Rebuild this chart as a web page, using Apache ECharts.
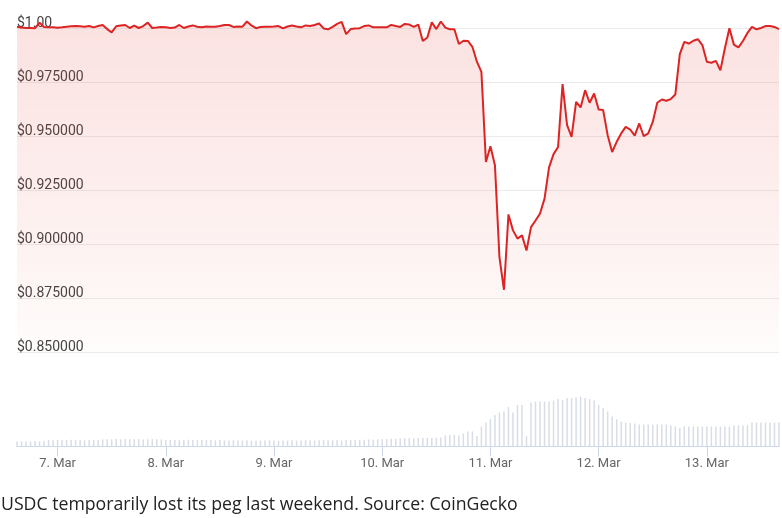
<!DOCTYPE html>
<html>
<head>
<meta charset="utf-8">
<script src="https://cdn.jsdelivr.net/npm/echarts@6/dist/echarts.min.js"></script>
<style>
html,body{margin:0;padding:0;background:#fff;}
#chart{width:782px;height:518px;}
</style>
</head>
<body>
<div id="chart"></div>
<script>
// ---- data ----
const caption = 'USDC temporarily lost its peg last weekend. Source: CoinGecko';
const dayLabels = ['6. Mar','7. Mar','8. Mar','9. Mar','10. Mar','11. Mar','12. Mar','13. Mar'];
const firstHour = 15;   // data starts 6 Mar 15:00
const lastHour = 16;    // data ends 13 Mar 16:00
const yTicks = [0.85, 0.875, 0.9, 0.925, 0.95, 0.975, 1.0];

const price = [
 1.0006,1.0002,1.0000,1.0000,0.9999,1.0025,1.0005,1.0003,1.0003,1.0001,
 1.0003,1.0006,1.0008,1.0009,1.0008,1.0006,1.0009,1.0003,1.0009,1.0014,
 0.9995,0.9980,1.0008,1.0012,1.0014,1.0000,1.0011,1.0000,1.0009,1.0025,
 1.0000,1.0002,1.0005,1.0003,1.0000,1.0002,1.0014,1.0000,1.0007,1.0012,
 1.0006,1.0003,1.0007,1.0006,1.0006,1.0009,1.0014,1.0014,1.0005,1.0007,
 1.0006,1.0030,1.0012,0.9999,1.0005,1.0006,1.0006,1.0007,1.0009,0.9998,
 1.0007,1.0012,1.0007,1.0003,1.0012,1.0009,1.0014,1.0021,0.9998,0.9994,
 1.0005,1.0019,1.0028,0.9972,0.9995,0.9998,0.9999,1.0009,1.0012,1.0003,
 1.0003,1.0003,1.0003,1.0014,1.0009,1.0005,1.0019,1.0016,1.0005,1.0016,
 0.9940,0.9956,1.0026,0.9995,1.0030,1.0002,0.9994,0.9994,0.9926,0.9941,
 0.9940,0.9913,0.9844,0.9797,0.9380,0.9453,0.9365,0.8939,0.8788,0.9137,
 0.9063,0.9025,0.9040,0.8970,0.9078,0.9109,0.9141,0.9210,0.9355,0.9416,
 0.9449,0.9740,0.9550,0.9496,0.9658,0.9632,0.9712,0.9654,0.9697,0.9623,
 0.9620,0.9504,0.9426,0.9473,0.9512,0.9542,0.9530,0.9502,0.9558,0.9499,
 0.9512,0.9565,0.9654,0.9669,0.9663,0.9671,0.9692,0.9879,0.9936,0.9928,
 0.9941,0.9948,0.9921,0.9844,0.9839,0.9848,0.9804,0.9906,0.9999,0.9923,
 0.9910,0.9940,0.9977,1.0005,0.9994,1.0000,1.0009,1.0009,1.0005,0.9995
];

// trading volume (USD bn)
const volume = [
 2.5,2.6,2.5,2.5,2.7,2.6,2.8,
 3.2,3.1,3.3,3.2,3.2,3.4,3.2,3.3,3.1,3.2,3.4,3.3,3.5,3.6,
 3.6,3.7,3.6,3.8,3.7,3.6,3.7,3.5,3.6,3.7,3.6,3.5,
 3.3,3.4,3.3,3.2,3.3,3.4,3.3,3.2,3.3,3.3,3.2,3.1,3.2,3.1,3.0,3.1,
 3.0,3.0,3.1,3.0,2.9,3.0,3.0,3.1,3.0,2.9,3.0,3.0,
 3.1,3.0,3.1,3.2,3.1,3.0,3.1,3.2,3.1,3.1,3.2,3.1,3.2,3.3,3.2,
 3.4,3.4,3.5,3.4,3.6,
 3.8,3.7,3.9,3.8,
 4.0,4.1,4.2,4.1,4.3,4.2,4.4,4.2,4.3,4.5,
 5.6,5.8,5.9,5.5,
 6.5,7.5,7.6,5.3,10,12,13.7,15.8,17,17.5,19.7,17,20.8,20.8,5.3,22,22.5,22.5,22.5,22.5,
 23,23.7,23.3,24.2,24.2,24.5,25,24.2,23.7,23,20.8,19.2,17.5,15,13.7,12.5,12,11.7,11.5,
 11,11,11,11,11,11,11,10.5,10,9.2,
 10,10,10,10,10,10,10,10,10,10,10,
 10.5,10.5,10.5,10.8,
 12,12,12,12,12,12,12
];

// hourly categories
const categories = [];
dayLabels.forEach((d, di) => {
  const h0 = di === 0 ? firstHour : 0;
  const h1 = di === dayLabels.length - 1 ? lastHour : 23;
  for (let h = h0; h <= h1; h++) {
    categories.push(d + ' ' + String(h).padStart(2, '0') + ':00');
  }
});

const isMidnight = (idx, val) => /00:00$/.test(val);

const chart = echarts.init(document.getElementById('chart'));
chart.setOption({
  animation: false,
  title: {
    text: caption,
    left: 1, top: 496, padding: 0,
    textStyle: {fontFamily: '"Open Sans", sans-serif', fontSize: 17.7, fontWeight: 'normal', color: '#222'}
  },
  grid: [
    {left: 17, right: 3, top: 28, bottom: 166},
    {left: 17, right: 3, top: 346.5, bottom: 71.5}
  ],
  xAxis: [
    {type: 'category', gridIndex: 0, data: categories, boundaryGap: false, show: false},
    {type: 'category', gridIndex: 1, data: categories, boundaryGap: false,
     axisLine: {lineStyle: {color: '#ccd6eb', width: 1}},
     axisTick: {interval: isMidnight, length: 10, lineStyle: {color: '#ccd6eb'}},
     axisLabel: {interval: isMidnight, margin: 11,
       formatter: v => v.split(' ').slice(0, 2).join(' '),
       color: '#666', fontSize: 13, fontFamily: 'Roboto, sans-serif'},
     splitLine: {show: false}}
  ],
  yAxis: [
    {type: 'value', gridIndex: 0, min: yTicks[0], max: yTicks[yTicks.length - 1], interval: 0.025,
     axisLine: {show: false}, axisTick: {show: false},
     splitLine: {lineStyle: {color: '#ebebeb', width: 1}},
     axisLabel: {inside: true, margin: 0, verticalAlign: 'bottom', lineHeight: 10,
       color: '#444', fontSize: 14, fontFamily: 'Roboto, sans-serif',
       formatter: v => Math.abs(v - 1) < 1e-9 ? '$1.00' : '$' + v.toFixed(6)}},
    {type: 'value', gridIndex: 1, min: 0, max: 50, show: false, splitLine: {show: false}}
  ],
  series: [
    {type: 'line', xAxisIndex: 0, yAxisIndex: 0, data: price, symbol: 'none', clip: false,
     lineStyle: {color: '#dd2424', width: 2},
     areaStyle: {color: new echarts.graphic.LinearGradient(0, 0, 0, 1, [
       {offset: 0, color: 'rgba(226,60,50,0.21)'},
       {offset: 0.7, color: 'rgba(226,60,50,0.09)'},
       {offset: 1, color: 'rgba(226,60,50,0.02)'}
     ])}},
    {type: 'bar', xAxisIndex: 1, yAxisIndex: 1, data: volume, barWidth: 1.5,
     itemStyle: {color: '#d8dde6'}}
  ]
});
</script>
</body>
</html>
